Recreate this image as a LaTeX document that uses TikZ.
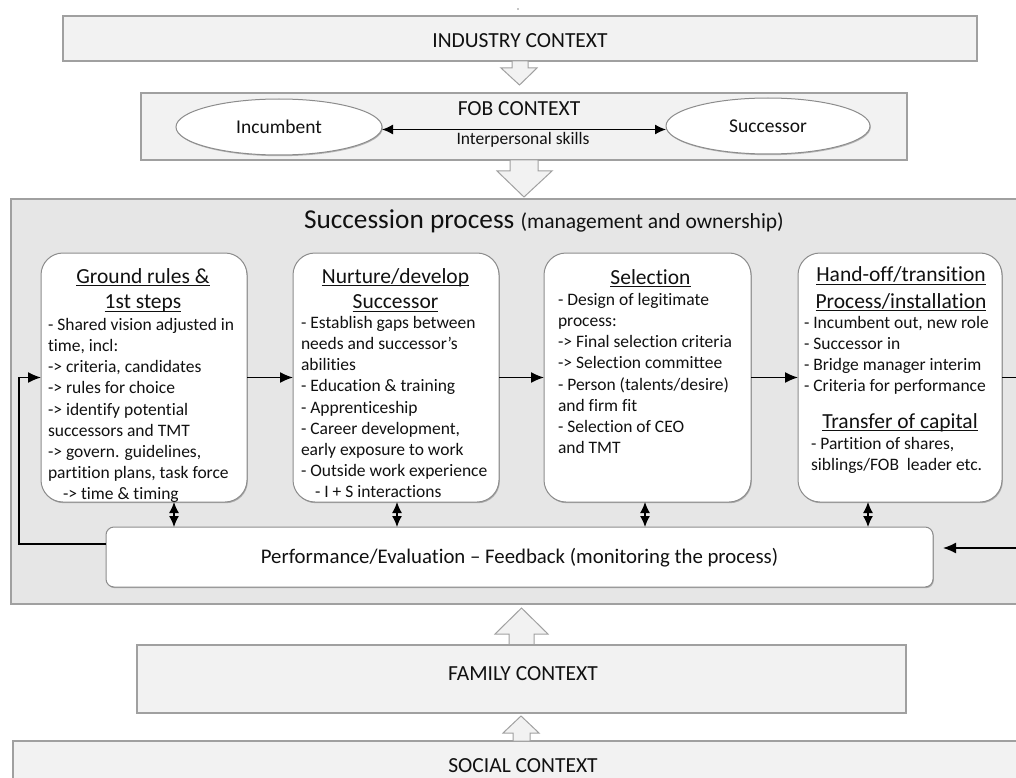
\documentclass[tikz,border=0pt]{standalone}
\usepackage{fontspec}
\setmainfont{Carlito}[Ligatures={TeX,NoCommon}]
\usetikzlibrary{shapes.geometric,arrows.meta,shadows}

\definecolor{ink}{HTML}{111111}
\definecolor{ctxfill}{HTML}{F2F2F2}
\definecolor{ctxline}{HTML}{A0A0A0}
\definecolor{procfill}{HTML}{E6E6E6}
\definecolor{boxline}{HTML}{8C8C8C}

\newcommand\ctxfont{\fontsize{21.5}{26}\selectfont}
\newcommand\hdrfont{\fontsize{21.5}{25.5}\selectfont}
\newcommand\bodyfont{\fontsize{17.5}{21.1}\selectfont}
\newcommand\smallbody{\fontsize{17.5}{21}\selectfont}

% underline at a fixed depth below the baseline
\newsavebox\hulbox
\newcommand\hul[1]{\sbox\hulbox{#1}\leavevmode\rlap{\vrule width\wd\hulbox height -2.2pt depth 3.4pt}\usebox\hulbox}

\begin{document}
\begin{tikzpicture}[x=1pt,y=-1pt,
  every node/.style={text=ink, inner sep=0pt, outer sep=0pt},
  soft/.style={drop shadow={shadow xshift=0.8pt, shadow yshift=-1.2pt, opacity=0.25, fill=black}},
  ctxbox/.style={rectangle, draw=ctxline, fill=ctxfill, line width=1.1pt, soft},
  procbox/.style={rectangle, draw=ctxline, fill=procfill, line width=1.1pt},
  stagebox/.style={rectangle, rounded corners=22pt, draw=boxline, fill=white, line width=1pt, soft},
  perfbox/.style={rectangle, rounded corners=8pt, draw=boxline, fill=white, line width=1pt, soft},
  actor/.style={ellipse, draw=boxline, fill=white, line width=1pt, font=\fontsize{19.5}{23}\selectfont, soft},
  ctxlabel/.style={anchor=base, font=\ctxfont},
  hdr/.style={anchor=base, font=\hdrfont},
  body/.style={anchor=north west, align=left, font=\bodyfont},
  blockarrow/.style={draw=ctxline, fill=ctxfill, line width=1pt, line join=miter},
  flow/.style={draw=black, line width=1.4pt, -{Latex[length=13pt,width=11pt]}},
  link/.style={draw=black, line width=1.4pt},
  twoway/.style={draw=black, line width=1.3pt, {Latex[length=11pt,width=10pt]}-{Latex[length=11pt,width=10pt]}}
]
\useasboundingbox (0,0) rectangle (1016,778);
\clip (0,0) rectangle (1016,778);

% stray mark above the top box
\fill[black!45] (518,9) circle (0.8pt);

% ---------- outer contexts ----------
\node[ctxbox, minimum width=914pt, minimum height=45pt] (industry) at (520,38.5) {};
\node[ctxlabel] (industrylbl) at (520,48) {INDUSTRY CONTEXT};

\draw[blockarrow] (512,61) -- (512,68) -- (501,68) -- (519.5,85) -- (537,68) -- (528,68) -- (528,61) -- cycle;

\node[ctxbox, minimum width=766pt, minimum height=67pt] (fob) at (524,126.5) {};
\node[ctxlabel] (foblbl) at (519,116) {FOB CONTEXT};
\node[actor, minimum width=206pt, minimum height=56pt] (inc) at (279,127) {Incumbent};
\node[actor, minimum width=204pt, minimum height=56pt] (suc) at (768,126) {Successor};
\draw[twoway] ([yshift=-2.5pt]inc.east) -- ([yshift=-3.5pt]suc.west);
\node[anchor=base, font=\smallbody] (skills) at (523,145) {Interpersonal skills};

\draw[blockarrow] (510,160) -- (510,171) -- (497,171) -- (524,197) -- (552,171) -- (538,171) -- (538,160) -- cycle;

% ---------- succession process ----------
\node[procbox, minimum width=1019pt, minimum height=405pt] (proc) at (520.5,401.5) {};
\node[anchor=base west] (title) at (304,228)
  {{\fontsize{27.3}{32}\selectfont Succession process }{\fontsize{21.5}{26}\selectfont(management and ownership)}};

\node[stagebox, minimum width=206pt, minimum height=249pt] (b1) at (144,377.5) {};
\node[stagebox, minimum width=206pt, minimum height=249pt] (b2) at (396,377.5) {};
\node[stagebox, minimum width=207pt, minimum height=249pt] (b3) at (647.5,377.5) {};
\node[stagebox, minimum width=204pt, minimum height=249pt] (b4) at (900,377.5) {};

% stage 1
\node[hdr] (h1a) at (143,283) {\hul{Ground rules \&}};
\node[hdr] (h1b) at (143,308.5) {\hul{1st steps}};
\node[body] (t1) at (48,318.5) {- Shared vision adjusted in\\
time, incl:\\
-> criteria, candidates\\
-> rules for choice\\
-> identify potential\\
successors and TMT\\
-> govern. guidelines,\\
partition plans, task force\\
\hspace*{15pt}-> time \& timing};

% stage 2
\node[hdr] (h2a) at (395.5,283) {\hul{Nurture/develop}};
\node[hdr] (h2b) at (395.5,308.5) {\hul{Successor}};
\node[body] (t2) at (301,316.5) {- Establish gaps between\\
needs and successor’s\\
abilities\\
- Education \& training\\
- Apprenticeship\\
- Career development,\\
early exposure to work\\
- Outside work experience\\
\hspace*{14pt}- I + S interactions};

% stage 3
\node[hdr] (h3a) at (650.5,284) {\hul{Selection}};
\node[body] (t3) at (558,293.5) {- Design of legitimate\\
process:\\
-> Final selection criteria\\
-> Selection committee\\
- Person (talents/desire)\\
and firm fit\\
- Selection of CEO\\
and TMT};

% stage 4
\node[hdr] (h4a) at (901,281.5) {\hul{Hand-off/transition}};
\node[hdr] (h4b) at (901,308) {\hul{Process/installation}};
\node[body] (t4) at (804,316.5) {- Incumbent out, new role\\
- Successor in\\
- Bridge manager interim\\
- Criteria for performance};
\node[hdr] (h4c) at (900,428) {\hul{Transfer of capital}};
\node[body] (t4b) at (811,437.5) {- Partition of shares,\\
siblings/FOB\ \ leader etc.};

% feedback box
\node[perfbox, minimum width=827pt, minimum height=60pt] (perf) at (519.5,557) {};
\node[anchor=base, font=\fontsize{20.8}{25}\selectfont] (perflbl) at (519.5,563)
  {Performance/Evaluation -- Feedback (monitoring the process)};

% stage-to-stage flow
\draw[flow] (b1.east) -- (b2.west);
\draw[flow] (b2.east) -- (b3.west);
\draw[flow] (b3.east) -- (b4.west);
\coordinate (outR) at (1016,377.5);
\draw[link] (b4.east) -- (outR);

% monitoring links between stages and feedback
\draw[twoway] ([xshift=30pt]b1.south) -- ([xshift=30pt]b1.south |- perf.north);
\draw[twoway] ([xshift=1pt]b2.south) -- ([xshift=1pt]b2.south |- perf.north);
\draw[twoway] ([xshift=-2.5pt]b3.south) -- ([xshift=-2.5pt]b3.south |- perf.north);
\draw[twoway] ([xshift=-32pt]b4.south) -- ([xshift=-32pt]b4.south |- perf.north);

% feedback loop back to the first stage
\coordinate (loopL) at (19,544);
\draw[flow] ([yshift=13pt]perf.west) -- (loopL) |- (b1.west);
\coordinate (inR) at (1016,548);
\draw[flow] (inR) -- ([xshift=10pt,yshift=9pt]perf.east);

% ---------- lower contexts ----------
\draw[blockarrow] (509,645) -- (509,634) -- (495,634) -- (521.5,608) -- (548,634) -- (534,634) -- (534,645) -- cycle;
\node[ctxbox, minimum width=769pt, minimum height=68pt] (family) at (521.5,679) {};
\node[ctxlabel] (familylbl) at (523,680) {FAMILY CONTEXT};

\node[ctxbox, minimum width=1017pt, minimum height=60pt] (social) at (521.5,771) {};
\node[ctxlabel] (sociallbl) at (523,772) {SOCIAL CONTEXT};
\draw[blockarrow] (513,741) -- (513,733) -- (503,733) -- (521,716) -- (539,733) -- (530,733) -- (530,741) -- cycle;
\end{tikzpicture}
\end{document}
